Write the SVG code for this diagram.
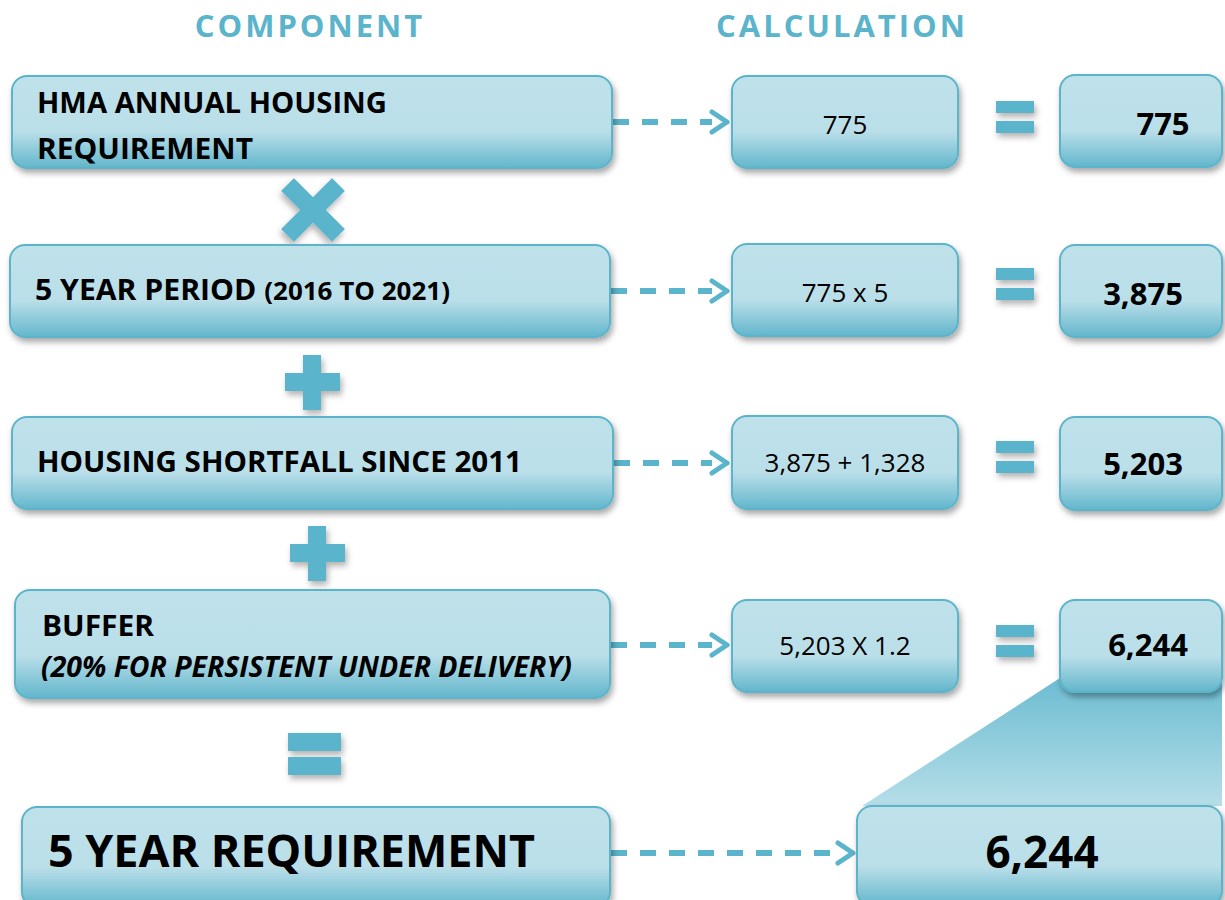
<svg xmlns="http://www.w3.org/2000/svg" width="1225" height="900" viewBox="0 0 1225 900">
<defs>
<linearGradient id="boxg" x1="0" y1="0" x2="0" y2="1">
<stop offset="0" stop-color="#bee1ea"/>
<stop offset="0.6" stop-color="#bbdfe9"/>
<stop offset="1" stop-color="#62b6cc"/>
</linearGradient>
<linearGradient id="trap" x1="0" y1="0" x2="0" y2="1">
<stop offset="0" stop-color="#6cbcd1"/>
<stop offset="1" stop-color="#b6dee8"/>
</linearGradient>
<filter id="sh" x="-10%" y="-20%" width="120%" height="150%">
<feDropShadow dx="2" dy="4" stdDeviation="3" flood-color="#000" flood-opacity="0.35"/>
</filter>
<filter id="sh2" x="-20%" y="-20%" width="150%" height="160%">
<feDropShadow dx="2" dy="4" stdDeviation="3" flood-color="#000" flood-opacity="0.3"/>
</filter>
</defs>
<style>
.box{fill:url(#boxg);stroke:#5cb4cb;stroke-width:2;filter:url(#sh)}
.op{fill:#5ab4cb;filter:url(#sh2)}
.hd{font-family:"Open Sans","Liberation Sans",sans-serif;font-weight:bold;font-size:31px;fill:#5ab4cb;letter-spacing:3px;text-anchor:middle}
.lt{font-family:"Open Sans","Liberation Sans",sans-serif;font-weight:bold;font-size:29px;fill:#000}
.mt{font-family:"Open Sans","Liberation Sans",sans-serif;font-size:26px;fill:#000;text-anchor:middle}
.rt{font-family:"Open Sans","Liberation Sans",sans-serif;font-weight:bold;font-size:31px;fill:#000;text-anchor:middle}
.dash{stroke:#5ab4cb;stroke-width:6;fill:none;stroke-dasharray:16 13}
.chev{stroke:#5ab4cb;stroke-width:5;fill:none;stroke-linecap:round;stroke-linejoin:round}
</style>
<rect width="1225" height="900" fill="#fff"/>
<text class="hd" x="310" y="37">COMPONENT</text>
<text class="hd" x="842" y="37">CALCULATION</text>

<polygon id="zoom-wedge" points="1060,678 1222,678 1222,806 862,806" fill="url(#trap)"/>

<g id="connectors">
<line class="dash" x1="613" y1="122" x2="712" y2="122"/>
<polyline class="chev" points="712,112 727,122 712,132"/>
<line class="dash" x1="611" y1="291" x2="712" y2="291"/>
<polyline class="chev" points="712,281 727,291 712,301"/>
<line class="dash" x1="614" y1="463" x2="712" y2="463"/>
<polyline class="chev" points="712,453 727,463 712,473"/>
<line class="dash" x1="611" y1="645" x2="712" y2="645"/>
<polyline class="chev" points="712,635 727,645 712,655"/>
<line class="dash" x1="611" y1="853" x2="838" y2="853"/>
<polyline class="chev" points="838,843 853,853 838,863"/>
</g>

<g id="ops">
<g id="op-times" class="op" transform="translate(313,210) rotate(45)">
<rect x="-36" y="-9" width="72" height="18"/>
<rect x="-9" y="-36" width="18" height="72"/>
</g>
<g id="op-plus1" class="op">
<rect x="285" y="373" width="55" height="18"/>
<rect x="303" y="355" width="18" height="55"/>
</g>
<g id="op-plus2" class="op">
<rect x="290" y="544" width="55" height="18"/>
<rect x="308" y="526" width="18" height="55"/>
</g>
<g id="op-eq-big" class="op">
<rect x="288" y="733" width="53" height="18"/>
<rect x="288" y="757" width="53" height="18"/>
</g>
<g id="op-eq1" class="op"><rect x="996" y="101" width="38" height="12"/><rect x="996" y="121" width="38" height="12"/></g>
<g id="op-eq2" class="op"><rect x="996" y="268" width="38" height="12"/><rect x="996" y="288" width="38" height="12"/></g>
<g id="op-eq3" class="op"><rect x="996" y="441" width="38" height="12"/><rect x="996" y="461" width="38" height="12"/></g>
<g id="op-eq4" class="op"><rect x="996" y="625" width="38" height="12"/><rect x="996" y="645" width="38" height="12"/></g>
</g>

<g id="comp1"><rect class="box" x="12" y="76" width="600" height="92" rx="15"/>
<text class="lt" x="37" y="113" textLength="350" lengthAdjust="spacingAndGlyphs">HMA ANNUAL HOUSING</text>
<text class="lt" x="37" y="159" textLength="216" lengthAdjust="spacingAndGlyphs">REQUIREMENT</text></g>
<g id="comp2"><rect class="box" x="10" y="245" width="600" height="92" rx="15"/>
<text class="lt" x="35" y="300" textLength="415" lengthAdjust="spacingAndGlyphs">5 YEAR PERIOD <tspan style="font-size:25px">(2016 TO 2021)</tspan></text></g>
<g id="comp3"><rect class="box" x="12" y="417" width="601" height="92" rx="15"/>
<text class="lt" x="37" y="472" textLength="485" lengthAdjust="spacingAndGlyphs">HOUSING SHORTFALL SINCE 2011</text></g>
<g id="comp4"><rect class="box" x="15" y="590" width="595" height="108" rx="15"/>
<text class="lt" x="42" y="636" textLength="112" lengthAdjust="spacingAndGlyphs">BUFFER</text>
<text class="lt" x="41" y="677" style="font-style:italic;font-size:28px" textLength="531" lengthAdjust="spacingAndGlyphs">(20% FOR PERSISTENT UNDER DELIVERY)</text></g>
<g id="comp5"><rect class="box" x="22" y="807" width="588" height="100" rx="15"/>
<text class="lt" x="48" y="867" style="font-size:45px" textLength="487" lengthAdjust="spacingAndGlyphs">5 YEAR REQUIREMENT</text></g>

<g id="calc1"><rect class="box" x="732" y="76" width="226" height="92" rx="15"/><text class="mt" x="845" y="134">775</text></g>
<g id="calc2"><rect class="box" x="732" y="244" width="226" height="92" rx="15"/><text class="mt" x="845" y="302">775 x 5</text></g>
<g id="calc3"><rect class="box" x="732" y="416" width="226" height="93" rx="15"/><text class="mt" x="845" y="472">3,875 + 1,328</text></g>
<g id="calc4"><rect class="box" x="732" y="600" width="226" height="92" rx="15"/><text class="mt" x="845" y="655">5,203 X 1.2</text></g>

<g id="res1"><rect class="box" x="1060" y="75" width="162" height="92" rx="15"/><text class="rt" x="1163" y="135">775</text></g>
<g id="res2"><rect class="box" x="1060" y="245" width="162" height="92" rx="15"/><text class="rt" x="1143" y="305">3,875</text></g>
<g id="res3"><rect class="box" x="1060" y="417" width="162" height="93" rx="15"/><text class="rt" x="1143" y="475">5,203</text></g>
<g id="res4"><rect class="box" x="1060" y="600" width="162" height="92" rx="15"/><text class="rt" x="1148" y="656">6,244</text></g>
<g id="res5"><rect class="box" x="857" y="806" width="365" height="100" rx="15"/><text class="rt" x="1042" y="868" style="font-size:44px">6,244</text></g>
</svg>
